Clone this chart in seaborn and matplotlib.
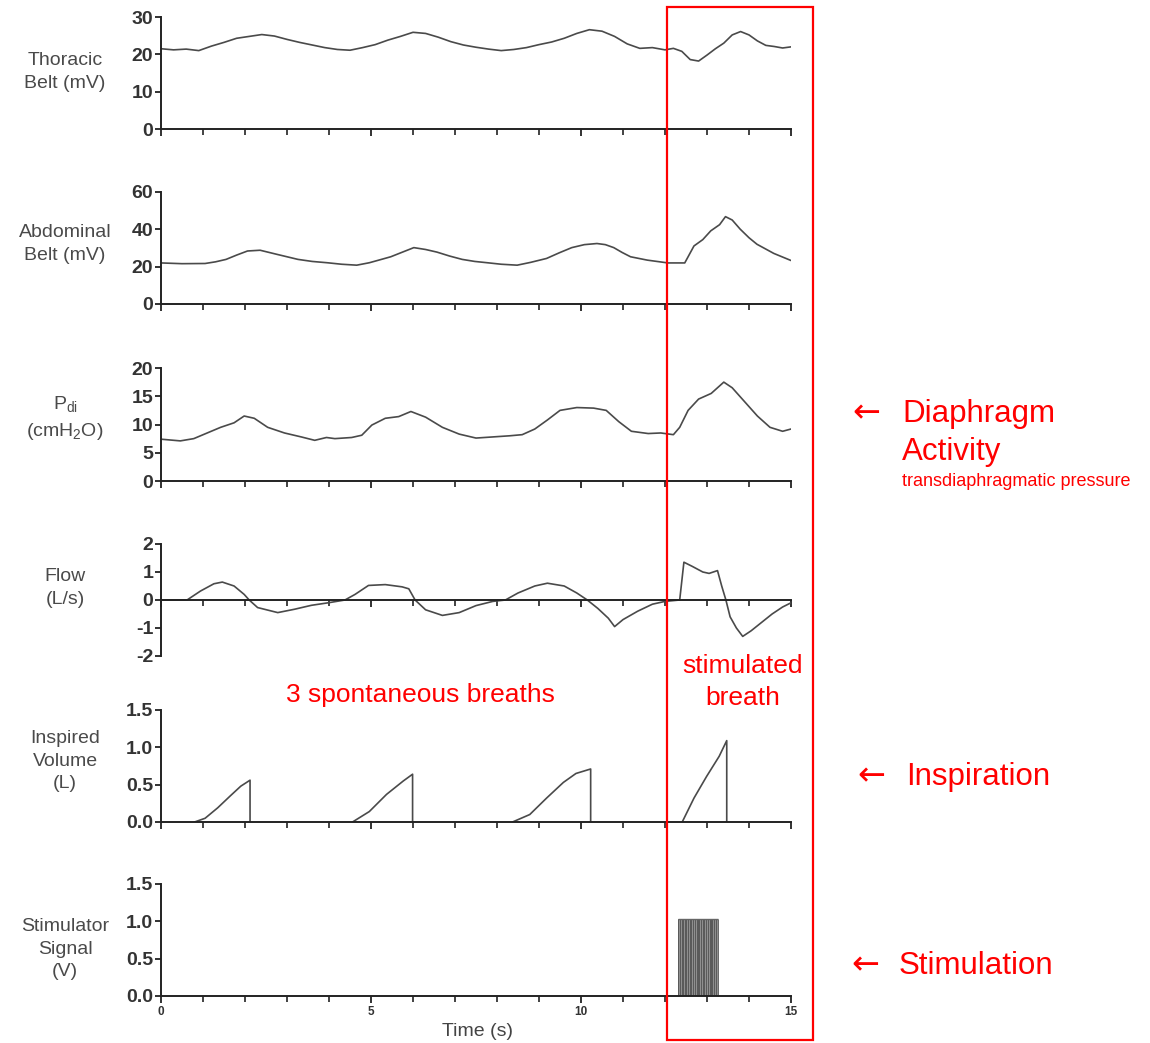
import numpy as np
import pandas as pd
import seaborn as sns
import matplotlib.pyplot as plt
from matplotlib.patches import Rectangle
from matplotlib.ticker import MultipleLocator

# Thoracic belt (mV)
thor_t = [0, 0.3, 0.6, 0.9, 1.2, 1.5, 1.8, 2.1, 2.4, 2.7, 3.0, 3.3, 3.6, 3.9, 4.2, 4.5, 4.8, 5.1, 5.4, 5.7,
          6.0, 6.3, 6.6, 6.9, 7.2, 7.5, 7.8, 8.1, 8.4, 8.7, 9.0, 9.3, 9.6, 9.9, 10.2, 10.5, 10.8, 11.1, 11.4,
          11.7, 12.0, 12.2, 12.4, 12.6, 12.8, 13.0, 13.2, 13.4, 13.6, 13.8, 14.0, 14.2, 14.4, 14.6, 14.8, 15.0]
thor_v = [21.5, 21.2, 21.4, 21.0, 22.2, 23.2, 24.3, 24.8, 25.3, 24.9, 24.0, 23.2, 22.5, 21.8, 21.3, 21.1,
          21.8, 22.6, 23.8, 24.8, 25.9, 25.6, 24.6, 23.4, 22.5, 21.9, 21.4, 21.0, 21.3, 21.8, 22.6, 23.3,
          24.3, 25.6, 26.6, 26.2, 24.8, 22.8, 21.6, 21.8, 21.2, 21.6, 20.8, 18.6, 18.2, 19.8, 21.5, 23.0,
          25.2, 26.1, 25.2, 23.6, 22.4, 22.1, 21.7, 22.0]

# Abdominal belt (mV)
abd_t = [0, 0.5, 1.05, 1.3, 1.55, 1.8, 2.06, 2.36, 2.76, 3.26, 3.6, 3.96, 4.3, 4.66, 4.96, 5.2, 5.47, 5.75,
         6.02, 6.3, 6.57, 6.87, 7.17, 7.47, 7.77, 8.1, 8.48, 8.8, 9.18, 9.48, 9.78, 10.08, 10.38, 10.58,
         10.78, 10.98, 11.18, 11.58, 12.07, 12.47, 12.69, 12.9, 13.09, 13.3, 13.44, 13.6, 13.79, 14.0,
         14.19, 14.59, 15.0]
abd_v = [22.0, 21.6, 21.7, 22.6, 23.9, 26.2, 28.4, 28.8, 26.6, 23.9, 22.8, 22.1, 21.3, 20.8, 22.1, 23.6,
         25.3, 27.8, 30.2, 29.2, 27.8, 25.7, 23.9, 22.8, 22.1, 21.3, 20.8, 22.3, 24.4, 27.4, 30.2, 31.8,
         32.4, 31.8, 30.2, 27.6, 25.3, 23.5, 22.0, 22.0, 31.1, 34.5, 39.2, 42.5, 46.8, 45.0, 40.1, 35.5,
         32.0, 27.1, 23.3]

# Transdiaphragmatic pressure (cmH2O)
pdi_t = [0, 0.46, 0.78, 1.1, 1.42, 1.74, 1.98, 2.22, 2.54, 2.94, 3.34, 3.66, 3.94, 4.14, 4.54, 4.78, 5.02,
         5.34, 5.66, 5.95, 6.3, 6.7, 7.1, 7.5, 7.9, 8.3, 8.6, 8.9, 9.2, 9.5, 9.9, 10.3, 10.6, 10.9, 11.2,
         11.6, 11.9, 12.2, 12.35, 12.55, 12.8, 13.1, 13.4, 13.6, 13.9, 14.2, 14.5, 14.8, 15.0]
pdi_v = [7.4, 7.1, 7.5, 8.5, 9.5, 10.3, 11.5, 11.1, 9.5, 8.5, 7.8, 7.2, 7.7, 7.5, 7.7, 8.1, 9.9, 11.1,
         11.4, 12.3, 11.3, 9.5, 8.3, 7.6, 7.8, 8.0, 8.2, 9.2, 10.8, 12.5, 13.0, 12.9, 12.5, 10.5, 8.8,
         8.4, 8.5, 8.2, 9.5, 12.5, 14.5, 15.5, 17.5, 16.5, 14.0, 11.5, 9.5, 8.8, 9.2]

# Flow (L/s)
flow_t = [0, 0.62, 0.94, 1.26, 1.46, 1.74, 1.98, 2.1, 2.3, 2.78, 3.18, 3.58, 3.98, 4.38, 4.62, 4.94, 5.34,
          5.74, 5.9, 6.05, 6.3, 6.7, 7.1, 7.5, 7.9, 8.2, 8.5, 8.9, 9.2, 9.6, 9.9, 10.15, 10.4, 10.65, 10.8,
          11.0, 11.35, 11.7, 12.0, 12.35, 12.45, 12.65, 12.9, 13.05, 13.25, 13.35, 13.45, 13.55, 13.7,
          13.85, 14.05, 14.3, 14.55, 14.8, 15.0]
flow_v = [0.0, 0.0, 0.32, 0.58, 0.64, 0.5, 0.2, 0.0, -0.27, -0.45, -0.33, -0.19, -0.1, 0.0, 0.2, 0.52,
          0.55, 0.47, 0.4, 0.0, -0.35, -0.55, -0.45, -0.2, -0.05, 0.0, 0.25, 0.5, 0.6, 0.5, 0.25, 0.0,
          -0.3, -0.65, -0.95, -0.7, -0.4, -0.15, -0.05, 0.0, 1.35, 1.2, 1.0, 0.95, 1.05, 0.5, 0.0, -0.6,
          -1.0, -1.3, -1.1, -0.8, -0.5, -0.25, -0.1]

# Inspired volume (L), one list per breath
vol_breath = ['b1'] * 7 + ['b2'] * 6 + ['b3'] * 7 + ['b4'] * 6
vol_t = [0.8, 1.05, 1.35, 1.65, 1.9, 2.12, 2.12,
         4.56, 4.96, 5.37, 5.77, 5.99, 5.99,
         8.37, 8.78, 9.18, 9.58, 9.88, 10.23, 10.23,
         12.41, 12.69, 12.99, 13.29, 13.47, 13.47]
vol_v = [0.0, 0.05, 0.19, 0.35, 0.48, 0.56, 0.0,
         0.0, 0.14, 0.37, 0.55, 0.64, 0.0,
         0.0, 0.10, 0.32, 0.53, 0.65, 0.71, 0.0,
         0.0, 0.32, 0.61, 0.88, 1.09, 0.0]

# Stimulator pulses (V)
stim_pulses = [12.32, 12.36, 12.40, 12.44, 12.48, 12.51, 12.55, 12.59, 12.63, 12.67, 12.71, 12.75, 12.79,
               12.82, 12.86, 12.90, 12.94, 12.98, 13.02, 13.06, 13.10, 13.13, 13.17, 13.21, 13.25]
stim_amp = 1.03

panel_labels = ['Thoracic\nBelt (mV)', 'Abdominal\nBelt (mV)', 'P$_{di}$\n(cmH$_2$O)', 'Flow\n(L/s)',
                'Inspired\nVolume\n(L)', 'Stimulator\nSignal\n(V)']
panel_ylims = [(0, 30), (0, 60), (0, 20), (-2, 2), (0, 1.5), (0, 1.5)]
panel_yticks = [[0, 10, 20, 30], [0, 20, 40, 60], [0, 5, 10, 15, 20], [-2, -1, 0, 1, 2],
                [0, 0.5, 1.0, 1.5], [0, 0.5, 1.0, 1.5]]

sns.set_style('ticks')
plt.rcParams['font.family'] = ['Liberation Sans', 'DejaVu Sans']
plt.rcParams['mathtext.default'] = 'regular'
plt.rcParams['axes.unicode_minus'] = False

W, H = 1150, 1043
fig = plt.figure(figsize=(W / 100, H / 100), dpi=100)

# panel (top, bottom) in pixels
panel_px = [(17, 129), (192, 304), (368, 481), (544, 656), (710, 822), (884, 996)]
label_y_px = [72, 244, 418, 588, 761, 949]
x0, x1 = 161, 791
line_col = '#4a4a4a'
axes = []
for i, (top, bot) in enumerate(panel_px):
    ax = fig.add_axes([x0 / W, 1 - bot / H, (x1 - x0) / W, (bot - top) / H])
    ax.set_xlim(0, 15)
    ax.set_ylim(*panel_ylims[i])
    ax.set_yticks(panel_yticks[i])
    if i >= 4:
        ax.set_yticklabels([f'{v:.1f}' for v in panel_yticks[i]])
    ax.set_xticks([0, 5, 10, 15])
    ax.xaxis.set_minor_locator(MultipleLocator(1))
    for s in ['top', 'right']:
        ax.spines[s].set_visible(False)
    for s in ['left', 'bottom']:
        ax.spines[s].set_linewidth(1.4)
        ax.spines[s].set_color('#222222')
    ax.tick_params(axis='y', length=4.5, width=1.3, pad=1, labelsize=14, colors='#222222',
                   labelcolor='#333333')
    ax.tick_params(axis='x', which='major', length=5, width=1.3, colors='#222222')
    ax.tick_params(axis='x', which='minor', length=4, width=1.2, colors='#222222')
    for lab in ax.get_yticklabels():
        lab.set_fontweight('bold')
    if i < 5:
        ax.tick_params(axis='x', labelbottom=False)
    ax.patch.set_alpha(0)
    fig.text(65 / W, 1 - label_y_px[i] / H, panel_labels[i], ha='center', va='center',
             fontsize=14, color='#4a4a4a', multialignment='center', linespacing=1.45)
    axes.append(ax)

sns.lineplot(x=thor_t, y=thor_v, ax=axes[0], color=line_col, linewidth=1.2)
sns.lineplot(x=abd_t, y=abd_v, ax=axes[1], color=line_col, linewidth=1.2)
sns.lineplot(x=pdi_t, y=pdi_v, ax=axes[2], color=line_col, linewidth=1.2)
axes[3].spines['bottom'].set_position(('data', 0))
sns.lineplot(x=flow_t, y=flow_v, ax=axes[3], color=line_col, linewidth=1.2)

vol_df = pd.DataFrame({'t': vol_t, 'v': vol_v, 'breath': vol_breath})
sns.lineplot(data=vol_df, x='t', y='v', units='breath', estimator=None, sort=False,
             ax=axes[4], color=line_col, linewidth=1.2)

ax = axes[5]
ax.add_patch(Rectangle((stim_pulses[0], 0), stim_pulses[-1] - stim_pulses[0], stim_amp,
                       facecolor='#8f8f8f', edgecolor='none', zorder=1))
ax.vlines(stim_pulses, 0, stim_amp, color='#505050', linewidth=0.6, zorder=2)
ax.hlines(stim_amp, stim_pulses[0], stim_pulses[-1], color='#666666', linewidth=1.0, zorder=2)
ax.tick_params(axis='x', labelsize=8.5, pad=2, labelcolor='#333333')
for lab in ax.get_xticklabels():
    lab.set_fontweight('bold')

for ax in axes:
    ax.set_xlabel('')
    ax.set_ylabel('')

fig.text(478 / W, 1 - 1031 / H, 'Time (s)', ha='center', va='center', fontsize=14, color='#444444')

# red annotations
red = '#ff0000'
fig.patches.append(Rectangle((667 / W, 1 - 1040 / H), (813 - 667) / W, (1040 - 7) / H,
                             transform=fig.transFigure, fill=False, edgecolor=red, linewidth=1.6))
fig.text(420 / W, 1 - 695 / H, '3 spontaneous breaths', ha='center', va='center', fontsize=19, color=red)
fig.text(743 / W, 1 - 682 / H, 'stimulated\nbreath', ha='center', va='center', fontsize=19,
         color=red, linespacing=1.4)
arrow_font = ['DejaVu Sans']
fig.text(866 / W, 1 - 413 / H, '\u2190', ha='center', va='center', fontsize=24, color=red,
         family=arrow_font)
fig.text(902 / W, 1 - 414 / H, 'Diaphragm', ha='left', va='center', fontsize=22.5, color=red)
fig.text(902 / W, 1 - 452 / H, 'Activity', ha='left', va='center', fontsize=22.5, color=red)
fig.text(902 / W, 1 - 481 / H, 'transdiaphragmatic pressure', ha='left', va='center', fontsize=13, color=red)
fig.text(871 / W, 1 - 776 / H, '\u2190', ha='center', va='center', fontsize=24, color=red,
         family=arrow_font)
fig.text(906 / W, 1 - 777 / H, 'Inspiration', ha='left', va='center', fontsize=22.5, color=red)
fig.text(865 / W, 1 - 965 / H, '\u2190', ha='center', va='center', fontsize=24, color=red,
         family=arrow_font)
fig.text(899 / W, 1 - 966 / H, 'Stimulation', ha='left', va='center', fontsize=22.5, color=red)

fig.savefig('out.png', dpi=100)
